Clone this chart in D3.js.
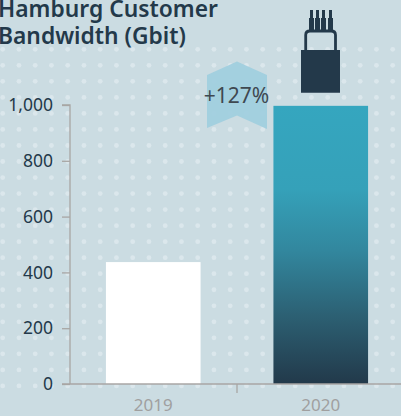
<!DOCTYPE html>
<html><head><meta charset="utf-8">
<style>html,body{margin:0;padding:0;background:#cbdce2;overflow:hidden}svg{display:block}</style>
<script src="https://cdn.jsdelivr.net/npm/d3@7"></script></head><body>
<svg id="c" width="401" height="416"></svg>
<script>
const categories = ["2019","2020"];
const values = [437,997];
const yTicks = [0,200,400,600,800,1000];
const titleLines = ["Hamburg Customer","Bandwidth (Gbit)"];
const badge = "+127%";
const svg = d3.select("#c");
const navy="#23394a", grey="#a8a6a4";
const font="'Noto Sans',sans-serif";
const y = d3.scaleLinear().domain([0,1000]).range([384,105]);
const x = d3.scaleBand().domain(categories).range([69.5,404.5]).paddingInner(0.435).paddingOuter(0.2175);
const defs = svg.append("defs");
const g = defs.append("linearGradient").attr("id","bar").attr("x1",0).attr("x2",0).attr("y1",0).attr("y2",1);
[[0,"#35a6bf"],[0.3,"#35a1b9"],[0.52,"#32879e"],[0.76,"#2c5f72"],[1,"#22394a"]].forEach(s=>g.append("stop").attr("offset",s[0]).attr("stop-color",s[1]));
svg.append("g").selectAll("circle").data(d3.cross(d3.range(25),d3.range(22))).join("circle")
  .attr("cx",d=>2.7+d[0]*16.25).attr("cy",d=>49.3+d[1]*16.03).attr("r",2.4).attr("fill","#dbe7ec");
titleLines.forEach((t,i)=>svg.append("text").text(t).attr("x",-2).attr("y",17+i*26.5).attr("font-family",font).attr("font-weight",600).attr("font-size",22.8).attr("fill",navy));
svg.append("g").selectAll("rect").data(categories).join("rect")
  .attr("x",d=>x(d)).attr("width",x.bandwidth()).attr("y",(d,i)=>y(values[i])).attr("height",(d,i)=>y(0)-y(values[i]))
  .attr("fill",(d,i)=>i?"url(#bar)":"#fff");
const ya = svg.append("g").attr("transform","translate(70,0)").call(d3.axisLeft(y).tickValues(yTicks).tickSize(8).tickPadding(9).tickFormat(d3.format(",")));
ya.selectAll("path,line").attr("stroke",grey).attr("stroke-width",1.3);
ya.select("path").attr("d","M-8,105H0V384");
ya.selectAll("text").attr("font-family",font).attr("font-size",17.5).attr("fill",navy);
const xa = svg.append("g").attr("transform","translate(0,384)").call(d3.axisBottom(x).tickSize(0).tickPadding(15));
xa.select("path").attr("d","M62,0H401").attr("stroke",grey).attr("stroke-width",1.3);
xa.selectAll("text").attr("font-family",font).attr("font-size",17).attr("fill","#a0a0a0");
const boundary = (x(categories[0])+x.bandwidth()+x(categories[1]))/2;
xa.append("line").attr("x1",boundary).attr("x2",boundary).attr("y1",0).attr("y2",9).attr("stroke",grey).attr("stroke-width",1.3);
svg.append("path").attr("d","M207,75L237,61.5L267,75V129L237,115.5L207,128Z").attr("fill","#a0cede").attr("fill-opacity",0.92);
svg.append("text").text(badge).attr("x",236.5).attr("y",103).attr("text-anchor","middle").attr("font-family",font).attr("font-size",21).attr("fill","#3f4850");
const p = svg.append("g").attr("fill",navy);
p.append("path").attr("d","M301,50H340V92.7H301Z");
p.append("path").attr("d","M305.7,50V35Q305.7,31 310,31H331Q335.5,31 335.5,35V50").attr("fill","none").attr("stroke",navy).attr("stroke-width",2.8);
[311.5,317.5,323.5,330.5].forEach(cx=>{p.append("rect").attr("x",cx-2.5).attr("y",18).attr("width",5).attr("height",13);p.append("rect").attr("x",cx-1.5).attr("y",10).attr("width",3).attr("height",9);});
</script></body></html>
